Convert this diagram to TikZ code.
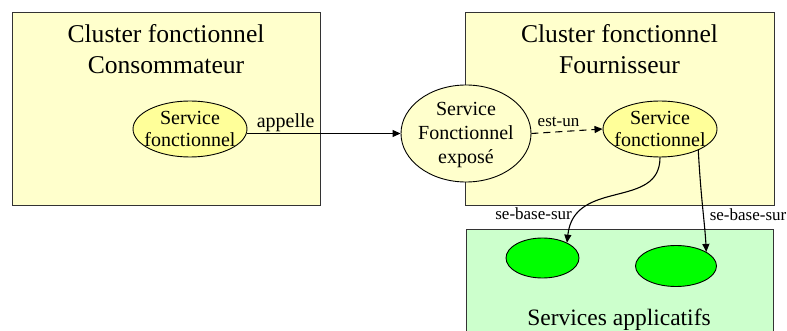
\documentclass[tikz,border=0pt]{standalone}
\usepackage{fontspec}
\setmainfont{Liberation Serif}
\usetikzlibrary{arrows.meta, positioning, shapes.geometric}
\definecolor{clusteryellow}{HTML}{FFFFCC}
\definecolor{serviceyellow}{HTML}{FFFF99}
\definecolor{appgreen}{HTML}{CCFFCC}
\definecolor{servgreen}{HTML}{00FF00}
\definecolor{boxgray}{HTML}{333333}

\begin{document}
\begin{tikzpicture}[x=1pt, y=-1pt,
  clusterbox/.style = {draw=boxgray, line width=0.9pt, fill=clusteryellow, inner sep=0pt},
  appbox/.style = {draw=boxgray, line width=0.9pt, fill=appgreen, inner sep=0pt},
  title/.style = {font=\fontsize{25.6}{31}\selectfont, align=center, inner sep=0pt},
  svellipse/.style = {ellipse, draw, line width=0.9pt, fill=serviceyellow, inner sep=0pt},
  svtext/.style = {font=\fontsize{20}{22}\selectfont, align=center, inner sep=0pt},
  greenellipse/.style = {ellipse, draw, line width=0.9pt, fill=servgreen, inner sep=0pt},
  arrow/.style = {line width=1.1pt, -{Triangle[length=8pt, width=7pt]}},
  dasharrow/.style = {arrow, dash pattern=on 7pt off 5pt},
  rel/.style = {font=\fontsize{17}{20}\selectfont, inner sep=2pt}
]
  \useasboundingbox (0,0) rectangle (787,331);

  % ======================================================
  % Clusters
  % ======================================================
  \node[clusterbox, minimum width=308pt, minimum height=193pt] (consumer) at (166,109) {};
  \node[title, below=12pt of consumer.north] (consumerTitle) {Cluster fonctionnel\\Consommateur};

  \node[clusterbox, minimum width=309pt, minimum height=193pt] (provider) at (619.5,109) {};
  \node[title, below=12pt of provider.north] (providerTitle) {Cluster fonctionnel\\Fournisseur};

  % Services applicatifs (cut at the bottom)
  \node[appbox, minimum width=307pt, minimum height=120pt, anchor=north west] (apps) at (466,229) {};
  \node[title, font=\fontsize{23.5}{28}\selectfont, anchor=base] (appsTitle) at (619,325) {Services applicatifs};

  % ======================================================
  % Services
  % ======================================================
  \node[svellipse, minimum width=114pt, minimum height=56pt,
        label={[svtext]center:Service\\fonctionnel}] (consService) at (190,129) {};

  \node[svellipse, fill=clusteryellow, minimum width=130pt, minimum height=97pt,
        label={[svtext, font=\fontsize{20}{24}\selectfont, yshift=-2pt]center:Service\\Fonctionnel\\expos\'e}] (exposed) at (466,133.5) {};

  \node[svellipse, minimum width=114pt, minimum height=56pt,
        label={[svtext]center:Service\\fonctionnel}] (provService) at (660,129) {};

  \node[greenellipse, minimum width=73pt, minimum height=40pt] (appA) at (542.5,258) {};
  \node[greenellipse, minimum width=81pt, minimum height=41pt] (appB) at (676,266) {};

  % ======================================================
  % Relations
  % ======================================================
  % consumer -> exposed
  \draw[arrow] (exposed.west -| consService.east) -- node[pos=0.25, above=0pt, inner sep=1pt, font=\fontsize{20}{22}\selectfont] {appelle} (exposed.west);

  % exposed -> provider service
  \draw[dasharrow] (exposed.east) -- node[rel, pos=0.38, above=3pt] {est-un} (provService.west);

  % provider service -> applicative services
  \draw[arrow] (provService.south) .. controls (660,210) and (574,178) .. node[rel, pos=0.8, left=5pt] {se-base-sur} (appA.32);
  \draw[arrow] (provService.-29) .. controls (701,200) and (705,225) .. node[rel, pos=0.55, right=4pt] {se-base-sur} (appB.25);

\end{tikzpicture}
\end{document}
